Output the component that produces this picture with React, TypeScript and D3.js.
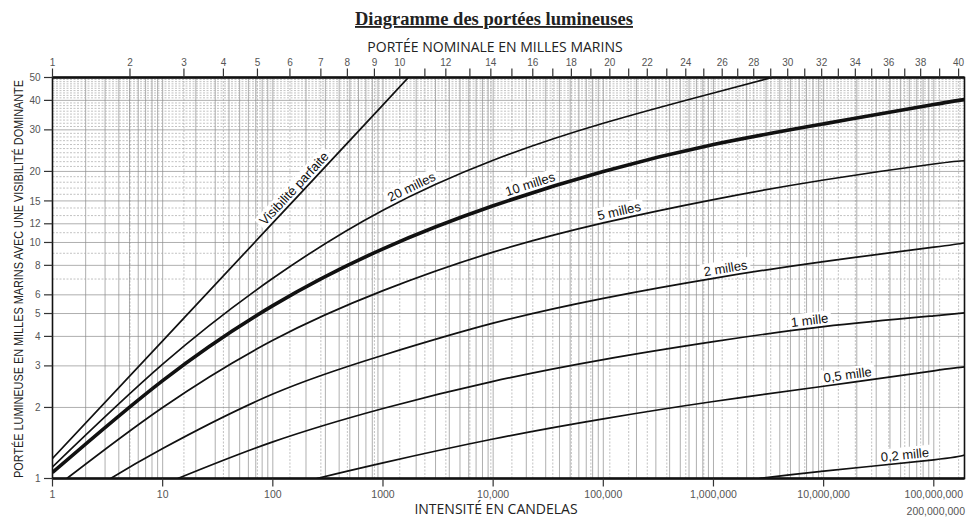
import React, { useRef, useEffect } from 'react';
import * as d3 from 'd3';

const WIDTH = 966;
const HEIGHT = 517;

// each curve: [intensité en candelas, portée lumineuse en milles]
const perfectVis = [[1, 1.215], [10, 3.83], [100, 12.1], [1000, 38.3], [1700, 50]];
const vis20 = [[1, 1.12], [10, 3.05], [100, 7.05], [1000, 13.7], [10000, 22.3], [100000, 32.0], [1000000, 43.0], [3400000, 50]];
const vis10 = [[1, 1.06], [10, 2.6], [100, 5.4], [1000, 9.4], [10000, 14.3], [100000, 20.0], [1000000, 26.0], [10000000, 31.8], [100000000, 38.4], [190000000, 40.3]];
const vis5 = [[1.35, 1], [10, 2.0], [100, 3.85], [1000, 6.25], [10000, 9.1], [100000, 12.1], [1000000, 15.2], [10000000, 18.4], [100000000, 21.5], [190000000, 22.2]];
const vis2 = [[3.37, 1], [10, 1.34], [100, 2.28], [1000, 3.33], [10000, 4.55], [100000, 5.8], [1000000, 7.05], [10000000, 8.3], [100000000, 9.55], [190000000, 9.95]];
const vis1 = [[13.7, 1], [100, 1.43], [1000, 1.98], [10000, 2.58], [100000, 3.19], [1000000, 3.8], [10000000, 4.4], [100000000, 4.89], [190000000, 5.03]];
const vis05 = [[250, 1], [1000, 1.165], [10000, 1.47], [100000, 1.79], [1000000, 2.12], [10000000, 2.46], [100000000, 2.86], [190000000, 2.97]];
const vis02 = [[2600000, 1], [10000000, 1.075], [100000000, 1.2], [190000000, 1.257]];

const curves = [perfectVis, vis20, vis10, vis5, vis2, vis1, vis05, vis02];
const curveNames = ['Visibilité parfaite', '20 milles', '10 milles', '5 milles', '2 milles', '1 mille', '0,5 mille', '0,2 mille'];
// intensity where each label sits along its curve
const labelAt = [176, 1950, 22900, 144000, 1320000, 7600000, 16900000, 55600000];

// bottom axis
const xTicks = [1, 10, 100, 1000, 10000, 100000, 1000000, 10000000, 100000000];
const xTickLabels = ['1', '10', '100', '1000', '10,000', '100,000', '1,000,000', '10,000,000', '100,000,000'];
const xEndLabel = '200,000,000';

// left axis
const yTicks = [1, 2, 3, 4, 5, 6, 8, 10, 12, 15, 20, 30, 40, 50];

// top axis: portée nominale (milles) and the intensity it sits over
const topMiles = [1, 2, 3, 4, 5, 6, 7, 8, 9, 10, 11, 12, 13, 14, 15, 16, 17, 18, 19, 20, 21, 22, 23, 24, 25, 26, 27, 28, 29, 30, 31, 32, 33, 34, 35, 36, 37, 38, 39, 40];
const topCandelas = [1, 5.05, 15.6, 35.6, 72.5, 143, 273, 475, 836, 1420, 2400, 3720, 6150, 9530, 14800, 22900, 34800, 51300, 77100, 114600, 170000, 250700, 377000, 560600, 817000, 1200000, 1660000, 2320000, 3310000, 4720000, 6740000, 9600000, 13600000, 19400000, 27300000, 39000000, 54500000, 76000000, 113000000, 168000000];

function pointAtX(path, px) {
  const len = path.getTotalLength();
  let lo = 0;
  let hi = len;
  for (let i = 0; i < 30; i++) {
    const mid = (lo + hi) / 2;
    if (path.getPointAtLength(mid).x < px) lo = mid;
    else hi = mid;
  }
  return path.getPointAtLength((lo + hi) / 2);
}

function App() {
  const svgRef = useRef<SVGSVGElement>(null);
  const margin = { left: 52.5, right: 1.5, top: 77.5, bottom: 38.5 };

  useEffect(() => {
    const svg = d3.select(svgRef.current);
    svg.selectAll('*').remove();

    const left = margin.left;
    const right = WIDTH - margin.right;
    const top = margin.top;
    const bottom = HEIGHT - margin.bottom;

    const x = d3.scaleLog().domain([1, 1.9e8]).range([left, right]);
    const y = d3.scaleLog().domain([1, 50]).range([bottom, top]);

    svg.append('rect').attr('width', WIDTH).attr('height', HEIGHT).attr('fill', '#fff');

    svg.append('defs').append('clipPath').attr('id', 'plot')
      .append('rect').attr('x', left).attr('y', top).attr('width', right - left).attr('height', bottom - top);

    // grid
    const grid = svg.append('g').attr('clip-path', 'url(#plot)');
    const minors = [];
    for (let e = 0; e <= 8; e++) {
      for (let k = 1; k <= 9; k++) minors.push(k * 10 ** e);
    }
    grid.selectAll('.nom')
      .data(topCandelas)
      .enter()
      .append('line')
      .attr('x1', (d) => x(d)).attr('x2', (d) => x(d))
      .attr('y1', top).attr('y2', bottom)
      .attr('stroke', '#a8a8a8').attr('stroke-width', 0.7).attr('stroke-dasharray', '2,1.5');
    grid.selectAll('.vminor')
      .data(minors.filter((d) => d > 1 && d < 1.9e8))
      .enter()
      .append('line')
      .attr('x1', (d) => x(d)).attr('x2', (d) => x(d))
      .attr('y1', top).attr('y2', bottom)
      .attr('stroke', '#8c8c8c').attr('stroke-width', 0.7);
    grid.selectAll('.hline')
      .data(d3.range(2, 50))
      .enter()
      .append('line')
      .attr('x1', left).attr('x2', right)
      .attr('y1', (d) => y(d)).attr('y2', (d) => y(d))
      .attr('stroke', (d) => (yTicks.includes(d) ? '#8c8c8c' : '#a8a8a8'))
      .attr('stroke-width', 0.7)
      .attr('stroke-dasharray', (d) => (yTicks.includes(d) ? null : '2,1.5'));

    const boxes = svg.append('g');

    // curves
    const line = d3.line().x((d) => x(d[0])).y((d) => y(d[1])).curve(d3.curveNatural);
    const paths = svg.append('g').attr('clip-path', 'url(#plot)')
      .selectAll('path')
      .data(curves)
      .enter()
      .append('path')
      .attr('fill', 'none')
      .attr('stroke', '#111')
      .attr('stroke-width', (d, i) => (i === 2 ? 3.6 : 1.7))
      .attr('stroke-linejoin', 'round')
      .attr('d', (d) => line(d));

    // labels on curves
    const labels = svg.append('g');
    paths.each((d, i, nodes) => {
      const el = nodes[i];
      const px = x(labelAt[i]);
      const p = pointAtX(el, px);
      const p1 = pointAtX(el, px - 6);
      const p2 = pointAtX(el, px + 6);
      const angle = (Math.atan2(p2.y - p1.y, p2.x - p1.x) * 180) / Math.PI;
      const off = i === 2 ? 4.5 : 3.5;
      const g = labels.append('g').attr('transform', `translate(${p.x},${p.y}) rotate(${angle})`);
      const t = g.append('text')
        .attr('y', -off)
        .attr('text-anchor', 'middle')
        .attr('font-family', "'Liberation Sans', Arial, sans-serif")
        .attr('font-size', 13)
        .attr('fill', '#111')
        .text(curveNames[i]);
      const w = t.node().getComputedTextLength();
      boxes.append('rect')
        .attr('transform', `translate(${p.x},${p.y}) rotate(${angle})`)
        .attr('x', -w / 2 - 3).attr('y', -off - 12)
        .attr('width', w + 6).attr('height', 12 + off - (i === 2 ? 2 : 1.2))
        .attr('fill', '#fff');
    });

    // frame
    svg.append('rect')
      .attr('x', left).attr('y', top).attr('width', right - left).attr('height', bottom - top)
      .attr('fill', 'none').attr('stroke', '#111').attr('stroke-width', 1.6);
    svg.append('line').attr('x1', left).attr('x2', right).attr('y1', top).attr('y2', top)
      .attr('stroke', '#111').attr('stroke-width', 2.4);
    svg.append('line').attr('x1', left).attr('x2', right).attr('y1', bottom).attr('y2', bottom)
      .attr('stroke', '#111').attr('stroke-width', 2.4);

    const tickFont = "'Liberation Sans', Arial, sans-serif";

    // bottom axis
    const bx = svg.append('g');
    bx.selectAll('line').data(xTicks).enter().append('line')
      .attr('x1', (d) => x(d)).attr('x2', (d) => x(d))
      .attr('y1', bottom).attr('y2', bottom + 8)
      .attr('stroke', '#333').attr('stroke-width', 1.2);
    bx.selectAll('text').data(xTicks).enter().append('text')
      .attr('x', (d) => x(d)).attr('y', bottom + 19)
      .attr('text-anchor', 'middle')
      .attr('font-family', tickFont).attr('font-size', 10.5).attr('fill', '#555')
      .text((d, i) => xTickLabels[i]);
    svg.append('text')
      .attr('x', WIDTH - 1).attr('y', HEIGHT - 2)
      .attr('text-anchor', 'end')
      .attr('font-family', tickFont).attr('font-size', 10.5).attr('fill', '#555')
      .text(xEndLabel);

    // top axis
    const tx = svg.append('g');
    tx.selectAll('line').data(topCandelas).enter().append('line')
      .attr('x1', (d) => x(d)).attr('x2', (d) => x(d))
      .attr('y1', top).attr('y2', top - 9)
      .attr('stroke', '#333').attr('stroke-width', 1.2);
    tx.selectAll('text').data(topMiles.filter((m) => m <= 10 || m % 2 === 0)).enter().append('text')
      .attr('x', (m) => x(topCandelas[topMiles.indexOf(m)]))
      .attr('y', top - 11.5)
      .attr('text-anchor', 'middle')
      .attr('font-family', tickFont).attr('font-size', 10).attr('fill', '#555')
      .text((m) => m);

    // left axis
    const ly = svg.append('g');
    ly.selectAll('line').data(yTicks).enter().append('line')
      .attr('x1', left - 8.5).attr('x2', left)
      .attr('y1', (d) => y(d)).attr('y2', (d) => y(d))
      .attr('stroke', '#333').attr('stroke-width', 1.2);
    ly.selectAll('text').data(yTicks).enter().append('text')
      .attr('x', left - 12).attr('y', (d) => y(d) + 3.6)
      .attr('text-anchor', 'end')
      .attr('font-family', tickFont).attr('font-size', 10).attr('fill', '#555')
      .text((d) => d);

    // titles
    svg.append('text')
      .attr('x', 494).attr('y', 25)
      .attr('text-anchor', 'middle')
      .attr('font-family', "'Liberation Serif', 'Times New Roman', serif")
      .attr('font-weight', 'bold').attr('font-size', 18.5).attr('fill', '#222')
      .style('text-decoration', 'underline')
      .text('Diagramme des portées lumineuses');
    svg.append('text')
      .attr('x', 495).attr('y', 52)
      .attr('text-anchor', 'middle')
      .attr('font-family', "'Open Sans', sans-serif")
      .attr('font-size', 14).attr('fill', '#222')
      .text('PORTÉE NOMINALE EN MILLES MARINS');
    svg.append('text')
      .attr('x', 496).attr('y', 514)
      .attr('text-anchor', 'middle')
      .attr('font-family', "'Open Sans', sans-serif")
      .attr('font-size', 14).attr('fill', '#222')
      .text('INTENSITÉ EN CANDELAS');

    // vertical axis title, squeezed horizontally to the plot height
    const yTitle = svg.append('g');
    const yt = yTitle.append('text')
      .attr('text-anchor', 'middle')
      .attr('font-family', "'Liberation Sans', Arial, sans-serif")
      .attr('font-size', 13.5).attr('fill', '#222')
      .text('PORTÉE LUMINEUSE EN MILLES MARINS AVEC UNE VISIBILITÉ DOMINANTE');
    const natural = yt.node().getComputedTextLength();
    yTitle.attr('transform', `translate(23, ${(top + bottom) / 2 + 1}) rotate(-90) scale(${398 / natural}, 1)`);
  }, []);

  return (
    <svg
      ref={svgRef}
      width={WIDTH}
      height={HEIGHT}
      style={{ position: 'absolute', left: 0, top: 0 }}
    />
  );
}

export default App;
